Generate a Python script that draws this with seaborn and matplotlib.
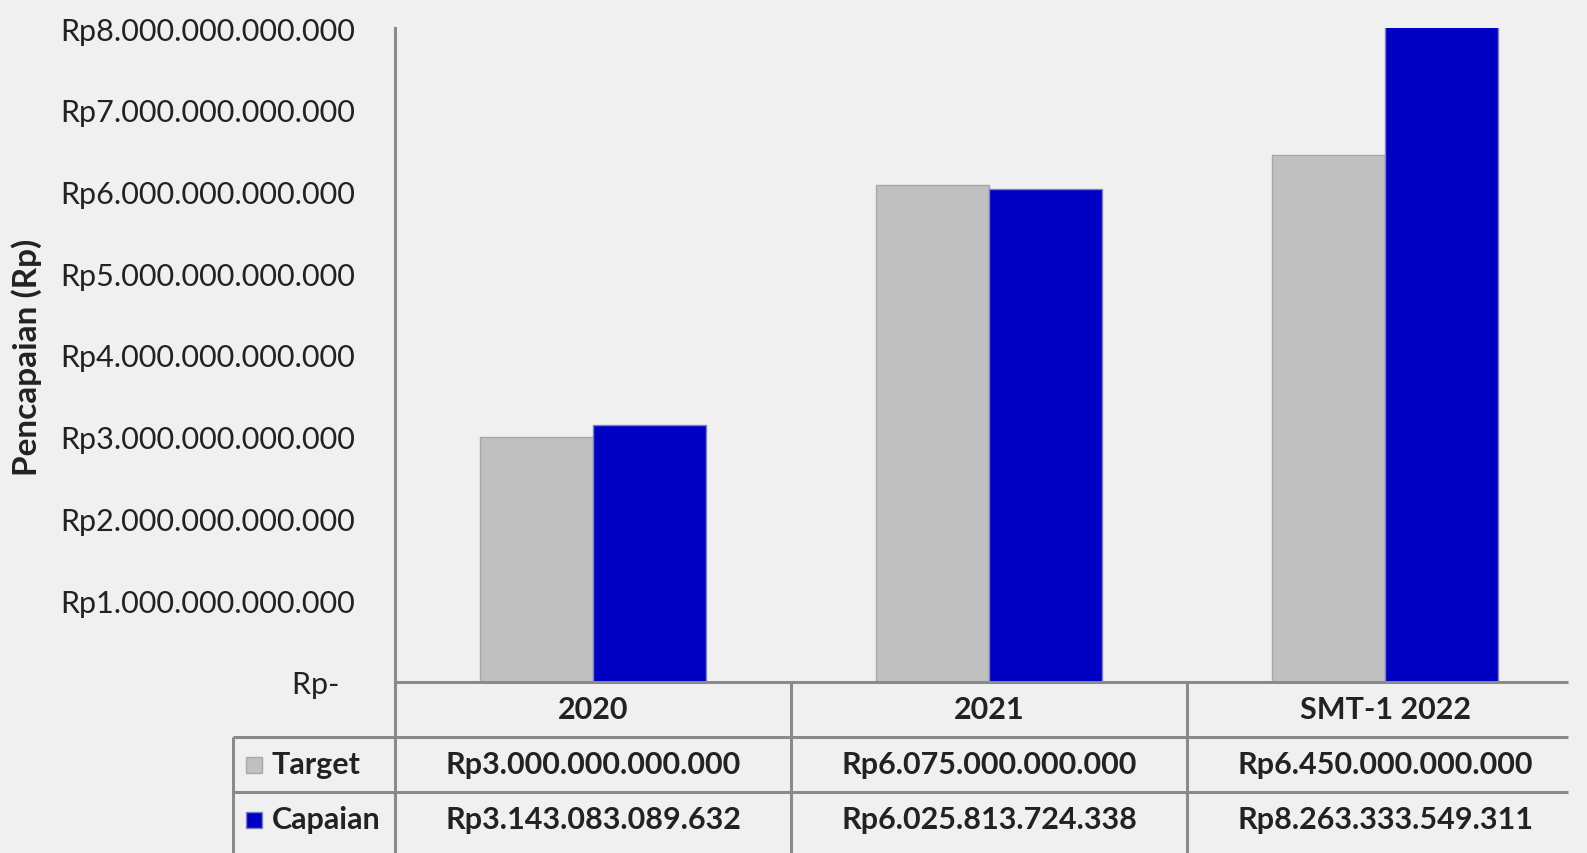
import numpy as np
import pandas as pd
import matplotlib
matplotlib.use("Agg")
import matplotlib.pyplot as plt
import matplotlib.transforms as mtransforms
import seaborn as sns

# data
periode = ["2020", "2021", "SMT-1 2022"]
target = [3000000000000, 6075000000000, 6450000000000]
capaian = [3143083089632, 6025813724338, 8263333549311]
seri = ["Target", "Capaian"]
y_ticks = [0, 1e12, 2e12, 3e12, 4e12, 5e12, 6e12, 7e12, 8e12]

warna = {"Target": "#c0c0c0", "Capaian": "#0000c4"}
tepi = {"Target": "#a8a8a8", "Capaian": "#8080c0"}
bg = "#f0f0f0"
garis = "#8a8a8a"
teks = "#222222"


def rupiah(v):
    if v == 0:
        return "Rp-  "
    return "Rp" + f"{v:,.0f}".replace(",", ".")


df = pd.DataFrame({
    "Periode": periode * 2,
    "Nilai": target + capaian,
    "Seri": ["Target"] * 3 + ["Capaian"] * 3,
})

sns.set_theme(style="white")
plt.rcParams["font.family"] = ["Lato", "DejaVu Sans"]

fig = plt.figure(figsize=(15.87, 8.54), dpi=100, facecolor=bg)
ax = fig.add_axes([395 / 1587, 1 - 683 / 854, (1583 - 395) / 1587, (683 - 29) / 854])
ax.set_facecolor(bg)

sns.barplot(data=df, x="Periode", y="Nilai", hue="Seri", hue_order=seri,
            palette=warna, saturation=1, width=0.57, gap=0, legend=False, ax=ax,
            edgecolor="#a8a8a8", linewidth=1)
for patch, s in zip(ax.patches, ["Target"] * 3 + ["Capaian"] * 3):
    patch.set_edgecolor(tepi[s])

ax.set_xlim(-0.5, 2.5)
ax.set_ylim(0, 8e12)
ax.set_yticks(y_ticks)
ax.set_yticklabels([rupiah(v) for v in y_ticks], fontsize=22, color=teks)
ax.tick_params(axis="y", length=0, pad=29)
ax.set_xticks([])
ax.set_xlabel("")
ax.set_ylabel("")
for sp in ["top", "right", "bottom"]:
    ax.spines[sp].set_visible(False)
ax.spines["left"].set_color(garis)
ax.spines["left"].set_linewidth(2.2)

fig.text(27 / 1587, 1 - 357 / 854, "Pencapaian (Rp)", rotation=90, ha="center",
         va="center", fontsize=24, fontweight="bold", color=teks)

# data table under the axis
tr = mtransforms.blended_transform_factory(ax.transData, ax.transAxes)
r = 55 / 654
x_kiri = -0.5 - 162 / 396
x_kanan = -0.5 + (1568 - 395) / 396
y_bawah = -(854 - 683) / 654
kw = dict(color=garis, lw=2.2, transform=tr, clip_on=False, solid_capstyle="butt")
ax.plot([-0.5, x_kanan], [0, 0], **kw)
ax.plot([x_kiri, x_kanan], [-r, -r], **kw)
ax.plot([x_kiri, x_kanan], [-2 * r, -2 * r], **kw)
ax.plot([-0.5, -0.5], [0, y_bawah], **kw)
ax.plot([x_kiri, x_kiri], [-r, y_bawah], **kw)
for xb in [0.5, 1.5]:
    ax.plot([xb, xb], [0, y_bawah], **kw)

fs = 22
for i, p in enumerate(periode):
    ax.text(i, -0.5 * r, p, transform=tr, ha="center", va="center",
            fontsize=fs, fontweight="bold", color=teks)
    ax.text(i, -1.5 * r, rupiah(target[i]), transform=tr, ha="center", va="center",
            fontsize=fs, fontweight="bold", color=teks)
    ax.text(i, -2.5 * r, rupiah(capaian[i]), transform=tr, ha="center", va="center",
            fontsize=fs, fontweight="bold", color=teks)

for j, s in enumerate(seri):
    yy = -(1.5 + j) * r
    ax.plot([-0.5 - 141 / 396], [yy], marker="s", markersize=12,
            color=warna[s], markeredgecolor=tepi[s], transform=tr, clip_on=False)
    ax.text(-0.5 - 123 / 396, yy, s, transform=tr, ha="left", va="center",
            fontsize=fs, fontweight="bold", color=teks)

fig.savefig("out.png", dpi=100, facecolor=bg)
